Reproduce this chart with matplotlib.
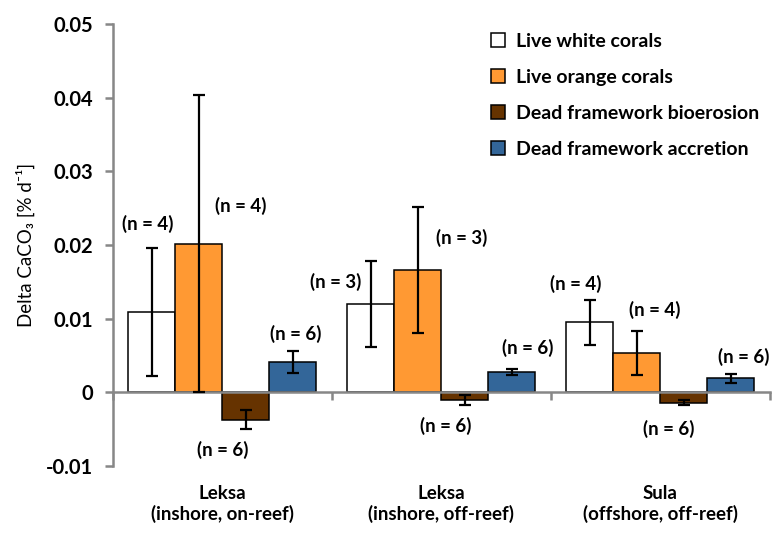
import numpy as np
import matplotlib.pyplot as plt
from matplotlib.ticker import FixedLocator, FuncFormatter

# ======================================================
# Data
# ======================================================

sites = ["Leksa\n(inshore, on-reef)",
         "Leksa\n(inshore, off-reef)",
         "Sula\n(offshore, off-reef)"]

series = ["Live white corals",
          "Live orange corals",
          "Dead framework bioerosion",
          "Dead framework accretion"]

white_mean = [0.0109, 0.0120, 0.0095]
white_err = [0.0087, 0.0058, 0.0031]
orange_mean = [0.0202, 0.0166, 0.0053]
orange_err = [0.0202, 0.0085, 0.0030]
brown_mean = [-0.0037, -0.0010, -0.0014]
brown_err = [0.00125, 0.0007, 0.00036]
blue_mean = [0.0041, 0.0027, 0.0019]
blue_err = [0.0015, 0.0004, 0.0006]

n_white = [4, 3, 4]
n_orange = [4, 3, 4]
n_brown = [6, 6, 6]
n_blue = [6, 6, 6]

# label placement (x offset from group centre, y in data units)
lab_dx = [[-0.342, 0.084, 0.0, 0.336],
          [-0.484, 0.091, 0.018, 0.393],
          [-0.386, -0.027, 0.037, 0.381]]
lab_y = [[0.0229, 0.0253, -0.0078, 0.0079],
         [0.0150, 0.0210, -0.0046, 0.0060],
         [0.0147, 0.0112, -0.0050, 0.0048]]

colors = ["#FFFFFF", "#FF9933", "#663300", "#336699"]

means = [white_mean, orange_mean, brown_mean, blue_mean]
errs = [white_err, orange_err, brown_err, blue_err]
counts = [n_white, n_orange, n_brown, n_blue]

# ======================================================
# Plot
# ======================================================

plt.rcParams['font.family'] = ['Lato', 'DejaVu Sans']
plt.rcParams['font.weight'] = 'bold'

fig = plt.figure(figsize=(7.75, 5.35), dpi=100)
ax = fig.add_axes([0.1458, 0.129, 0.8477, 0.8261])

x = np.arange(len(sites))
w = 0.2146
gray = "#878787"

for i in range(4):
    ax.bar(x + (i - 1.5) * w, means[i], w, color=colors[i],
           edgecolor="black", linewidth=1.1, label=series[i], zorder=2)
    ax.errorbar(x + (i - 1.5) * w, means[i], yerr=errs[i], fmt="none",
                ecolor="black", elinewidth=1.6, capsize=4.3, capthick=1.6,
                zorder=3)

for g in range(len(sites)):
    for i in range(4):
        ax.text(x[g] + lab_dx[g][i], lab_y[g][i], f"(n = {counts[i][g]})",
                ha="center", va="center", fontsize=13.5)

ax.set_xlim(-0.5, 2.5)
ax.set_ylim(-0.01, 0.05)
ax.set_yticks(np.arange(-0.01, 0.051, 0.01))
ax.yaxis.set_major_formatter(FuncFormatter(
    lambda v, p: "0" if abs(v) < 1e-9 else f"{v:.2f}"))

ax.set_xticks(x)
ax.set_xticklabels(sites, linespacing=1.8)
ax.xaxis.set_minor_locator(FixedLocator([-0.5, 0.5, 1.5, 2.5]))
ax.tick_params(axis="x", which="major", length=0, pad=67, labelsize=13.5)
ax.tick_params(axis="x", which="minor", length=6, width=1.8,
               color=gray, direction="out")
ax.tick_params(axis="y", length=6, width=1.8, color=gray,
               labelsize=14.5, pad=8.5)

for s in ["top", "right"]:
    ax.spines[s].set_visible(False)
ax.spines["bottom"].set_position(("data", 0))
ax.spines["bottom"].set_color(gray)
ax.spines["bottom"].set_linewidth(1.8)
ax.spines["left"].set_color(gray)
ax.spines["left"].set_linewidth(1.8)

ax.set_ylabel("Delta CaCO₃ [% d⁻¹]", fontsize=13.5, fontweight="normal",
              labelpad=8)

ax.legend(loc="upper left", bbox_to_anchor=(0.548, 1.02), frameon=False,
          prop={"size": 14, "weight": "bold"}, handlelength=0.75,
          handleheight=0.75, handletextpad=0.55, labelspacing=0.98)

fig.savefig("out.png", dpi=100)
